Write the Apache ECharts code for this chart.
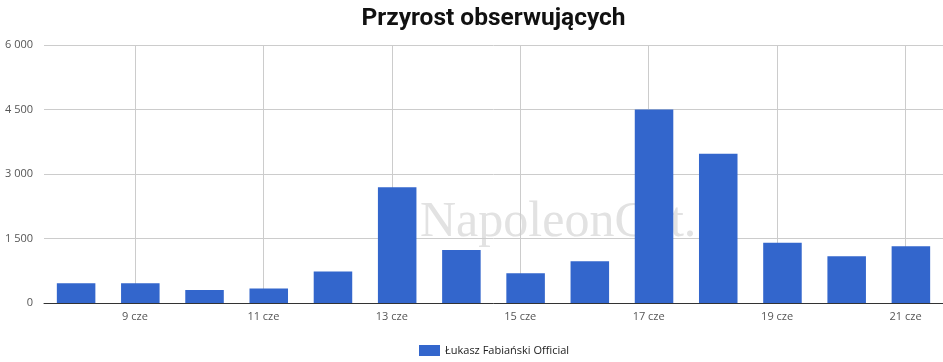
<!DOCTYPE html>
<html><head><meta charset="utf-8">
<script src="https://cdn.jsdelivr.net/npm/echarts@6/dist/echarts.min.js"></script>
<style>html,body{margin:0;padding:0;background:#fff}#c{width:943px;height:362px}</style>
</head><body><div id="c"></div>
<script>
const chartTitle = 'Przyrost obserwujących';
const seriesName = 'Łukasz Fabiański Official';
const watermark = 'NapoleonCat.';
const days = ['2018-06-08','2018-06-09','2018-06-10','2018-06-11','2018-06-12','2018-06-13','2018-06-14',
              '2018-06-15','2018-06-16','2018-06-17','2018-06-18','2018-06-19','2018-06-20','2018-06-21'];
const followers = [460, 460, 300, 340, 730, 2690, 1230, 690, 970, 4500, 3470, 1400, 1090, 1320];
const xTickDays = ['2018-06-09','2018-06-11','2018-06-13','2018-06-15','2018-06-17','2018-06-19','2018-06-21'];
const xTickLabels = ['9 cze','11 cze','13 cze','15 cze','17 cze','19 cze','21 cze'];
const yTicks = [0, 1500, 3000, 4500, 6000];
const localTz = '+02:00';
const axisStart = '2018-06-07T12:00:00Z';
const axisEnd = '2018-06-21T12:00:00Z';

// x values: hours since axis start
const t0 = Date.parse(axisStart);
const toHours = s => (Date.parse(s) - t0) / 3600000;
const barData = days.map((d, i) => [toHours(d + 'T00:00:00Z'), followers[i]]);
const xTickValues = xTickDays.map(d => toHours(d + 'T00:00:00' + localTz));
const fmtNum = v => String(v).replace(/\B(?=(\d{3})+(?!\d))/g, ' ');

const gridLeft = 44, gridRight = 0, W = 943;
const plotCenter = gridLeft + (W - gridLeft - gridRight) / 2;

const chart = echarts.init(document.getElementById('c'));
chart.setOption({
  animation: false,
  legend: {
    left: 414, top: 340, itemWidth: 21, itemHeight: 11, itemGap: 6, icon: 'rect',
    textStyle: { fontFamily: 'Open Sans', fontSize: 11, color: '#222' },
    data: [seriesName]
  },
  graphic: [{
    type: 'text', z: 10, silent: true,
    style: { x: plotCenter, y: 6, text: chartTitle, textAlign: 'center', textVerticalAlign: 'top',
             font: 'bold 24.5px Roboto', fill: '#111' }
  }, {
    type: 'text', left: 420, top: 198, z: -10, silent: true,
    style: { text: watermark, font: '50px "Liberation Serif"', fill: '#e2e2e2' }
  }],
  grid: { left: gridLeft, right: gridRight, top: 45, bottom: 59, containLabel: false },
  xAxis: {
    type: 'value',
    min: 0, max: toHours(axisEnd),
    axisLine: { onZero: false, lineStyle: { color: '#333', width: 1 } },
    axisTick: { show: false, customValues: xTickValues },
    splitLine: { show: true, lineStyle: { color: '#cccccc', width: 1 } },
    axisLabel: {
      customValues: xTickValues, margin: 8, color: '#555', fontFamily: 'Open Sans', fontSize: 11,
      formatter: v => xTickLabels[xTickValues.indexOf(v)] || ''
    }
  },
  yAxis: {
    type: 'value', min: yTicks[0], max: yTicks[yTicks.length - 1], interval: yTicks[1] - yTicks[0],
    axisLine: { show: false }, axisTick: { show: false },
    splitLine: { lineStyle: { color: '#cccccc', width: 1 } },
    axisLabel: { margin: 11, color: '#555', fontFamily: 'Open Sans', fontSize: 11, formatter: fmtNum }
  },
  series: [{
    name: seriesName, type: 'bar', barWidth: '60%',
    itemStyle: { color: '#3366cc' },
    data: barData
  }]
});
</script></body></html>
